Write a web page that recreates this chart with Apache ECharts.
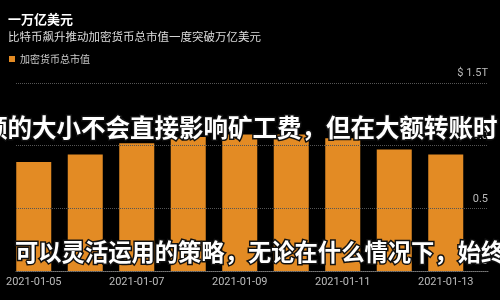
<!DOCTYPE html>
<html>
<head>
<meta charset="utf-8">
<script src="https://cdn.jsdelivr.net/npm/echarts@6/dist/echarts.min.js"></script>
<style>html,body{margin:0;padding:0;background:#000}#c{width:500px;height:300px}</style>
</head>
<body>
<div id="c"></div>
<script>
const titleText = '一万亿美元';
const subtitleText = '比特币飙升推动加密货币总市值一度突破万亿美元';
const seriesName = '加密货币总市值';
const categories = ['2021-01-05','2021-01-06','2021-01-07','2021-01-08','2021-01-09','2021-01-10','2021-01-11','2021-01-12','2021-01-13'];
const marketCap = [0.87, 0.93, 1.02, 1.07, 1.09, 1.09, 1.06, 0.97, 0.93];
const yTickLabels = {0: '0', 0.5: '0.5', 1: '1.0', 1.5: '$ 1.5T'};
const overlayLine1 = '额的大小不会直接影响矿工费，但在大额转账时';
const overlayLine2 = '可以灵活运用的策略，无论在什么情况下，始终';

const chart = echarts.init(document.getElementById('c'), null, {renderer: 'canvas'});
const fontFam = '"Noto Sans CJK SC", "Noto Sans", sans-serif';
chart.setOption({
  backgroundColor: '#000',
  animation: false,
  textStyle: {fontFamily: fontFam},
  title: {
    text: titleText, subtext: subtitleText,
    left: 8, top: 13, padding: 0, itemGap: 5,
    textStyle: {color: '#fff', fontSize: 13, fontWeight: 'bold', fontFamily: fontFam},
    subtextStyle: {color: '#ddd', fontSize: 11.5, fontFamily: fontFam}
  },
  legend: {
    left: 9, top: 54, padding: 0, icon: 'rect', itemWidth: 6, itemHeight: 6,
    textStyle: {color: '#ccc', fontSize: 10, fontFamily: fontFam},
    data: [seriesName]
  },
  grid: [
    {left: 8, right: 28.5, top: 83, bottom: 29},
    {left: 16, right: 12, top: 83, bottom: 29}
  ],
  xAxis: [
    {type: 'category', gridIndex: 0, data: categories,
     axisLine: {show: false}, axisTick: {show: false},
     axisLabel: {interval: 1, color: '#bbb', fontSize: 11, margin: 6, fontFamily: 'Roboto, sans-serif'}},
    {type: 'category', gridIndex: 1, data: categories,
     axisLine: {show: true, lineStyle: {color: '#777', width: 1}}, axisTick: {show: false},
     axisLabel: {show: false}, z: 0}
  ],
  yAxis: [
    {type: 'value', gridIndex: 0, min: 0, max: 1.5, interval: 0.5, position: 'right',
     axisLine: {show: false}, axisTick: {show: false}, axisLabel: {show: false}, splitLine: {show: false}},
    {type: 'value', gridIndex: 1, min: 0, max: 1.5, interval: 0.5, position: 'right', z: 3,
     axisLine: {show: false}, axisTick: {show: false},
     splitLine: {show: true, lineStyle: {color: '#555', type: 'dotted', width: 1}},
     axisLabel: {inside: true, margin: 0, color: '#bbb', fontSize: 11, verticalAlign: 'bottom',
       padding: [0, 0, 4, 0], fontFamily: 'Roboto, sans-serif',
       formatter: v => yTickLabels[v] !== undefined ? yTickLabels[v] : String(v)}}
  ],
  series: [
    {name: seriesName, type: 'bar', xAxisIndex: 0, yAxisIndex: 0, data: marketCap,
     barWidth: 35, itemStyle: {color: '#e38b24'}, z: 2},
    {type: 'bar', xAxisIndex: 1, yAxisIndex: 1, data: [], silent: true}
  ],
  graphic: [
    {type: 'text', x: -17, y: 115, z: 100,
     style: {text: overlayLine1, fill: '#fff', stroke: '#111', lineWidth: 3,
       fontSize: 24.5, fontWeight: 'bold', fontFamily: fontFam}},
    {type: 'text', x: 15, y: 241, z: 100,
     style: {text: overlayLine2, fill: '#fff', stroke: '#111', lineWidth: 3,
       fontSize: 23.3, fontWeight: 'bold', fontFamily: fontFam}}
  ]
});
</script>
</body>
</html>
